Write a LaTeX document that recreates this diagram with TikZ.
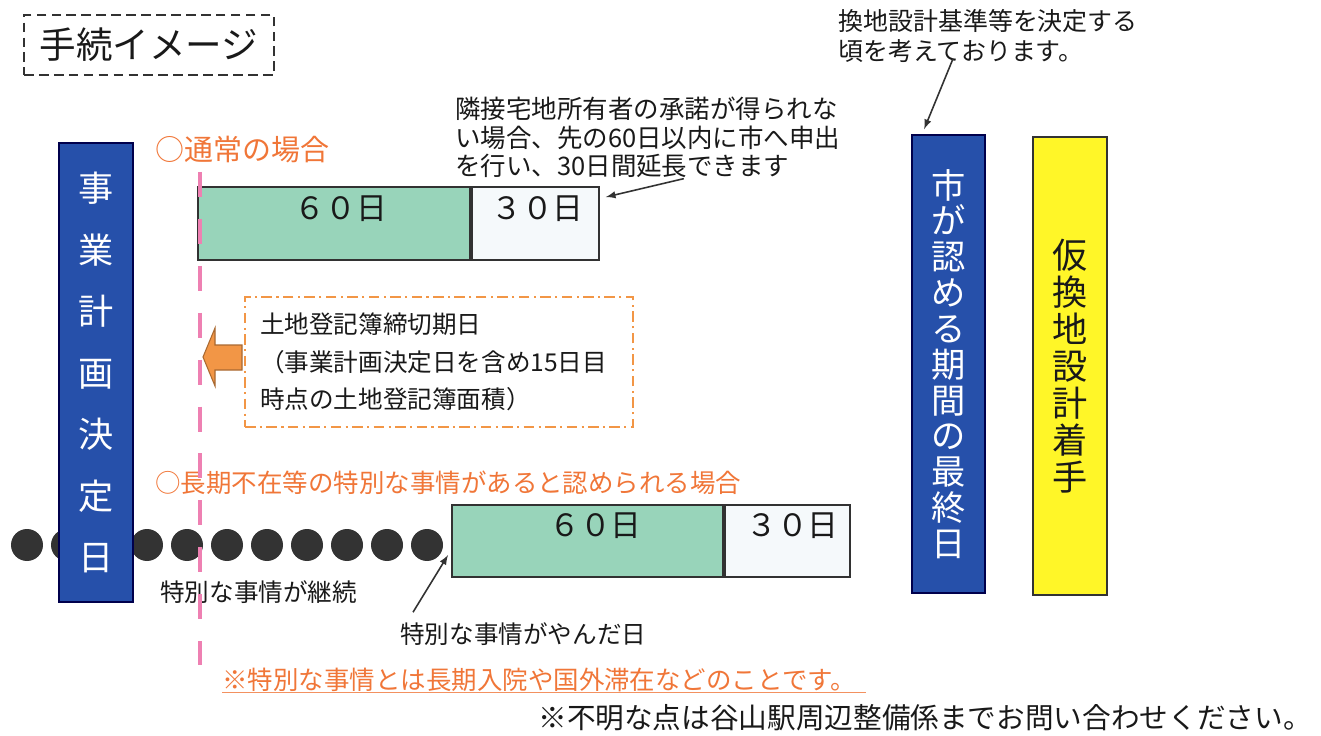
\documentclass[tikz,border=0pt]{standalone}
\usepackage{fontspec}
\setmainfont{Noto Sans CJK JP}
\usetikzlibrary{calc,positioning,arrows}
\definecolor{blueday}{RGB}{38,80,170}
\definecolor{greenday}{RGB}{152,212,186}
\definecolor{whiteday}{RGB}{245,249,251}
\definecolor{orangetxt}{RGB}{240,118,56}
\definecolor{pinkline}{RGB}{238,128,178}
\definecolor{yellowday}{RGB}{255,246,40}
\definecolor{arroworange}{RGB}{242,150,70}
\definecolor{darkline}{RGB}{50,50,50}
\newcommand{\fs}[2]{\fontsize{#1}{#2}\selectfont}

\begin{document}
\begin{tikzpicture}[x=0.02cm,y=-0.02cm,
  every node/.style={inner sep=0pt,text=black!90},
  barbox/.style={draw=darkline,line width=1.1pt,minimum height=1.46cm},
  daylbl/.style={font=\fs{17.5pt}{19pt}\addfontfeature{CharacterWidth=Full}},
  tallbox/.style={draw=black!70!blue,line width=1pt,minimum width=1.48cm,minimum height=9.18cm,align=center},
  notetxt/.style={font=\fs{14.5pt}{16pt},align=left},
  casetxt/.style={text=orangetxt},
  ptr/.style={-latex,line width=0.9pt,darkline}]

\useasboundingbox (0,0) rectangle (1321,736);

% title
\node[draw=darkline,line width=1.6pt,dash pattern=on 5.5pt off 3pt,minimum width=5cm,minimum height=1.2cm,font=\fs{20.8pt}{22pt}] (title) at (149,45) {手続イメージ};

% dots (special situation continues)
\foreach \i in {0,...,10}
  \fill[black!80] ({27+40*\i},545) circle (0.32cm);

% plan decision day
\node[tallbox,fill=blueday,text=white,font=\fs{20pt}{35pt}] (decide) at (96,372.5) {事\\業\\計\\画\\決\\定\\日};

% normal case
\node[casetxt,font=\fs{16.5pt}{18pt},anchor=west] (normal) at (155,150) {○通常の場合};
\node[barbox,fill=greenday,minimum width=5.44cm] (g1) at (334,223.5) {};
\node[barbox,fill=whiteday,minimum width=2.54cm,right=0pt of g1] (w1) {};
\node[daylbl] (g1t) at ($(g1.north)+(7,23)$) {60日};
\node[daylbl] (w1t) at ($(w1.north)+(2,23)$) {30日};

\node[notetxt,anchor=north west] (ext) at (455,97) {隣接宅地所有者の承諾が得られな\\い場合、先の60日以内に市へ申出\\を行い、30日間延長できます};
\draw[ptr] ($(ext.south)+(36,1)$) -- ($(w1.north east)+(6,11)$);

% land register box
\node[draw=arroworange,line width=1.2pt,dash pattern=on 6pt off 2.5pt on 1.2pt off 2.5pt,minimum width=7.76cm,minimum height=2.6cm,text width=7.16cm,align=left,font=\fs{14pt}{21.3pt}] (reg) at (439,362) {土地登記簿締切期日\\（事業計画決定日を含め15日目\\時点の土地登記簿面積）};
\filldraw[fill=arroworange,draw=arroworange!70!black,line width=0.6pt] (242,345) -- (215,345) -- (215,328) -- (203,357) -- (215,386) -- (215,370) -- (242,370) -- cycle;

% special case
\node[casetxt,font=\fs{14.5pt}{16pt},anchor=west] (special) at (155,483) {○長期不在等の特別な事情があると認められる場合};
\node[barbox,fill=greenday,minimum width=5.42cm,minimum height=1.44cm] (g2) at (587.5,541) {};
\node[barbox,fill=whiteday,minimum width=2.5cm,minimum height=1.44cm,right=0pt of g2] (w2) {};
\node[daylbl] (g2t) at ($(g2.north)+(8,22)$) {60日};
\node[daylbl] (w2t) at ($(w2.north)+(5,22)$) {30日};

\node[anchor=west,font=\fs{14pt}{16pt}] (cont) at (160,592) {特別な事情が継続};
\node[anchor=west,font=\fs{14pt}{16pt}] (ended) at (400,634) {特別な事情がやんだ日};
\draw[ptr] ($(ended.north west)+(13,-10)$) -- ($(g2.west)+(-3,14)$);

% pink day line
\coordinate (ptop) at (200,172);
\coordinate (pbot) at (200,665);
\draw[pinkline,line width=2.8pt,dash pattern=on 14.2pt off 12.5pt] (ptop) -- (pbot);

% footnotes
\node[anchor=west,casetxt,font=\fs{14.5pt}{16pt}] (remark) at (222,680) {※特別な事情とは長期入院や国外滞在などのことです。};
\draw[orangetxt!80,line width=0.6pt] (remark.south west) -- ([xshift=0.2cm]remark.south east);
\node[anchor=east,font=\fs{16.3pt}{18pt}] (contact) at (1312,718) {※不明な点は谷山駅周辺整備係までお問い合わせください。};

% right side
\node[notetxt,font=\fs{14.2pt}{17pt},anchor=north west] (basis) at (838,9) {換地設計基準等を決定する\\頃を考えております。};
\node[tallbox,fill=blueday,text=white,minimum width=1.46cm,minimum height=9.16cm,font=\fs{19.5pt}{20.4pt}] (lastday) at (948.5,364) {市\\が\\認\\め\\る\\期\\間\\の\\最\\終\\日};
\node[tallbox,fill=yellowday,draw=black!80,minimum height=9.16cm,font=\fs{20pt}{21pt}] (kari) at (1070,366) {仮\\換\\地\\設\\計\\着\\手};
\draw[ptr] ($(basis.south west)+(115,-4)$) -- ($(lastday.north west)+(13,-5)$);

\end{tikzpicture}
\end{document}
